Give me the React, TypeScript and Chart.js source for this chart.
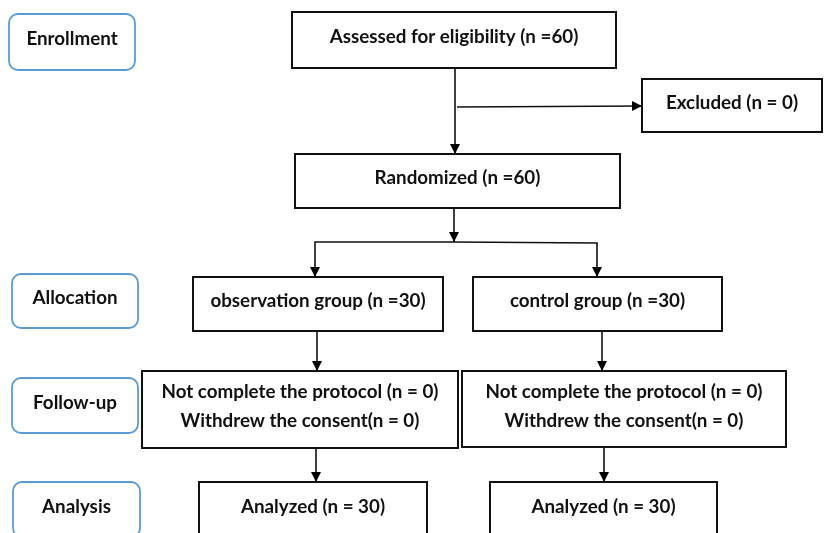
import React, { useEffect, useRef } from "react";
import { Chart, registerables } from "chart.js";

Chart.register(...registerables);

// Stage labels (left column, rounded blue boxes)
const stageLabels = ["Enrollment", "Allocation", "Follow-up", "Analysis"];
const stageX0 = [9, 12, 12, 13];
const stageX1 = [135, 138, 138, 140];
const stageY0 = [14, 274, 378, 482];
const stageY1 = [70, 328, 433, 537];

// Flow boxes
const boxLabels = [
  ["Assessed for eligibility (n =60)"],
  ["Excluded (n = 0)"],
  ["Randomized (n =60)"],
  ["observation group (n =30)"],
  ["control group (n =30)"],
  ["Not complete the protocol (n = 0)", "Withdrew the consent(n = 0)"],
  ["Not complete the protocol (n = 0)", "Withdrew the consent(n = 0)"],
  ["Analyzed (n = 30)"],
  ["Analyzed (n = 30)"],
];
const boxX0 = [292, 642, 295, 193, 473, 142, 462, 199, 490];
const boxX1 = [616, 822, 620, 443, 722, 458, 786, 427, 717];
const boxY0 = [12, 79, 154, 277, 277, 371, 371, 482, 482];
const boxY1 = [68, 132, 208, 331, 331, 448, 447, 537, 537];

// Connectors (polylines, arrowhead at the last point)
const connectors: { x: number; y: number }[][] = [
  [{ x: 455, y: 68 }, { x: 455, y: 154 }],
  [{ x: 457, y: 107 }, { x: 642, y: 106 }],
  [{ x: 454, y: 208 }, { x: 454, y: 242 }],
  [{ x: 454, y: 242 }, { x: 315, y: 242 }, { x: 315, y: 277 }],
  [{ x: 454, y: 242 }, { x: 597, y: 243 }, { x: 597, y: 277 }],
  [{ x: 317, y: 331 }, { x: 317, y: 371 }],
  [{ x: 602, y: 331 }, { x: 602, y: 371 }],
  [{ x: 316, y: 448 }, { x: 316, y: 482 }],
  [{ x: 604, y: 447 }, { x: 604, y: 482 }],
];

const FONT = "bold 18.8px Lato, 'Open Sans', sans-serif";

const flowPlugin = {
  id: "flowPlugin",
  afterDatasetsDraw(chart: any) {
    const ctx = chart.ctx as CanvasRenderingContext2D;
    const xs = chart.scales.x;
    const ys = chart.scales.y;
    const px = (v: number) => xs.getPixelForValue(v);
    const py = (v: number) => ys.getPixelForValue(v);
    ctx.save();

    // arrowheads
    ctx.fillStyle = "#000";
    connectors.forEach((pts) => {
      const a = pts[pts.length - 2];
      const b = pts[pts.length - 1];
      const ax = px(a.x), ay = py(a.y), bx = px(b.x), by = py(b.y);
      const ang = Math.atan2(by - ay, bx - ax);
      const len = 10, half = 5;
      ctx.beginPath();
      ctx.moveTo(bx, by);
      ctx.lineTo(bx - len * Math.cos(ang) + half * Math.sin(ang), by - len * Math.sin(ang) - half * Math.cos(ang));
      ctx.lineTo(bx - len * Math.cos(ang) - half * Math.sin(ang), by - len * Math.sin(ang) + half * Math.cos(ang));
      ctx.closePath();
      ctx.fill();
    });

    // stage boxes
    stageLabels.forEach((lab, i) => {
      const x0 = px(stageX0[i]), x1 = px(stageX1[i]);
      const y0 = py(stageY0[i]), y1 = py(stageY1[i]);
      ctx.fillStyle = "#fff";
      ctx.strokeStyle = "#5b9bd5";
      ctx.lineWidth = 1.8;
      ctx.beginPath();
      (ctx as any).roundRect(x0, y0, x1 - x0, y1 - y0, 9);
      ctx.fill();
      ctx.stroke();
      ctx.fillStyle = "#111";
      ctx.font = FONT;
      ctx.textAlign = "center";
      ctx.textBaseline = "middle";
      ctx.fillText(lab, (x0 + x1) / 2, (y0 + y1) / 2 - 3);
    });

    // flow boxes
    boxLabels.forEach((lines, i) => {
      const x0 = px(boxX0[i]), x1 = px(boxX1[i]);
      const y0 = py(boxY0[i]), y1 = py(boxY1[i]);
      ctx.fillStyle = "#fff";
      ctx.strokeStyle = "#111";
      ctx.lineWidth = 2;
      ctx.fillRect(x0, y0, x1 - x0, y1 - y0);
      ctx.strokeRect(x0, y0, x1 - x0, y1 - y0);
      ctx.fillStyle = "#111";
      ctx.font = FONT;
      ctx.textAlign = "center";
      ctx.textBaseline = "middle";
      const cx = (x0 + x1) / 2;
      const cy = (y0 + y1) / 2 - 3;
      const gap = 29;
      lines.forEach((t, j) => {
        ctx.fillText(t, cx, cy + (j - (lines.length - 1) / 2) * gap);
      });
    });
    ctx.restore();
  },
};

export default function App() {
  const ref = useRef<HTMLCanvasElement>(null);
  useEffect(() => {
    document.body.style.margin = "0";
    document.body.style.background = "#fff";
    const chart = new Chart(ref.current as HTMLCanvasElement, {
      type: "scatter",
      data: {
        datasets: connectors.map((pts) => ({
          data: pts,
          showLine: true,
          borderColor: "#111",
          borderWidth: 1.6,
          pointRadius: 0,
          fill: false,
          tension: 0,
        })),
      },
      options: {
        animation: false,
        responsive: false,
        maintainAspectRatio: false,
        layout: { padding: 0 },
        scales: {
          x: { type: "linear", min: 0, max: 825, display: false },
          y: { type: "linear", min: 0, max: 533, reverse: true, display: false },
        },
        plugins: { legend: { display: false }, tooltip: { enabled: false } },
        events: [],
      },
      plugins: [flowPlugin],
    } as any);
    return () => chart.destroy();
  }, []);
  return (
    <div style={{ width: 825, height: 533, background: "#fff" }}>
      <canvas ref={ref} width={825} height={533} style={{ display: "block" }} />
    </div>
  );
}
